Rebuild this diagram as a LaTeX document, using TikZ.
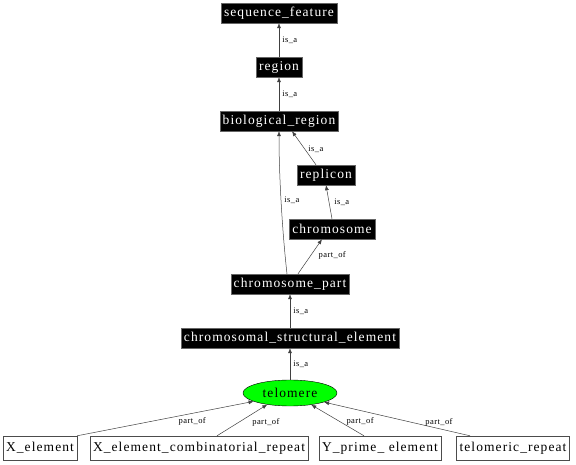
\documentclass[tikz,border=0pt]{standalone}
\usepackage{fontspec}
\setmainfont{Liberation Serif}
\newfontfamily\termfont[LetterSpace=8]{Liberation Serif}
\newfontfamily\relfont[LetterSpace=5]{Liberation Serif}
\usetikzlibrary{shapes.geometric,arrows.meta}
\tikzset{
  term/.style={fill=black,draw=black!60,text=white,inner xsep=3pt,inner ysep=0pt,minimum height=20pt,font=\termfont\fontsize{13.5}{14}\selectfont},
  leaf/.style={fill=white,draw=black!70,inner xsep=3pt,inner ysep=0pt,minimum height=24pt,font=\termfont\fontsize{13.5}{14}\selectfont},
  rel/.style={draw=black!75,line width=0.5pt,-{Latex[length=5pt,width=4pt]}},
  lbl/.style={font=\relfont\fontsize{8.5}{9}\selectfont,inner xsep=3pt,inner ysep=1pt}
}
\begin{document}
\begin{tikzpicture}[x=1pt,y=1pt]
        \useasboundingbox (0,0) rectangle (576,464);
        % ontology terms
        \node[term] (seqf) at (279,451) {sequence\_feature};
        \node[term] (reg) at (279,397) {region};
        \node[term] (bioreg) at (279,343) {biological\_region};
        \node[term] (repl) at (326,289) {replicon};
        \node[term] (chrom) at (332,235) {chromosome};
        \node[term] (chrpart) at (290,180) {chromosome\_part};
        \node[term] (cse) at (290,126) {chromosomal\_structural\_element};
        \node[ellipse,fill=green,draw=black,minimum width=94pt,minimum height=26pt,inner sep=0pt,font=\termfont\fontsize{13.5}{14}\selectfont] (tel) at (290,71) {telomere};
        \node[leaf] (xel) at (40,16) {X\_element};
        \node[leaf] (xcomb) at (199,16) {X\_element\_combinatorial\_repeat};
        \node[leaf] (ypr) at (380,16) {Y\_prime\_ element};
        \node[leaf] (trep) at (513,16) {telomeric\_repeat};
        % relations
        \draw[rel] (reg) -- node[lbl,right] {is\_a} (seqf);
        \draw[rel] (bioreg) -- node[lbl,right] {is\_a} (reg);
        \draw[rel] ([xshift=-10pt]repl.north) -- node[lbl,right,pos=0.45] {is\_a} ([xshift=13pt]bioreg.south);
        \draw[rel] (chrom.north) -- node[lbl,right,xshift=2pt] {is\_a} (repl.south);
        \draw[rel] ([xshift=-3pt]chrpart.north) .. controls +(-4,35) and +(0,-50) .. node[lbl,right,pos=0.55] {is\_a} (bioreg.south);
        \draw[rel] ([xshift=8pt]chrpart.north) -- node[lbl,anchor=west,pos=0.52,xshift=5pt] {part\_of} ([xshift=-10pt]chrom.south);
        \draw[rel] (cse) -- node[lbl,right] {is\_a} (chrpart);
        \draw[rel] (tel) -- node[lbl,right] {is\_a} (cse);
        \draw[rel] (xel.north east) -- node[lbl,anchor=west,pos=0.41,xshift=26pt] {part\_of} (tel.193);
        \draw[rel] ([xshift=18pt]xcomb.north) -- node[lbl,anchor=west,pos=0.44,xshift=10pt] {part\_of} (tel.207);
        \draw[rel] ([xshift=-16pt]ypr.north) -- node[lbl,anchor=west,pos=0.45,xshift=3pt] {part\_of} (tel.331);
        \draw[rel] ([xshift=-43pt]trep.north) -- node[lbl,anchor=west,pos=0.41,xshift=12pt] {part\_of} (tel.345);
      \end{tikzpicture}
\end{document}
